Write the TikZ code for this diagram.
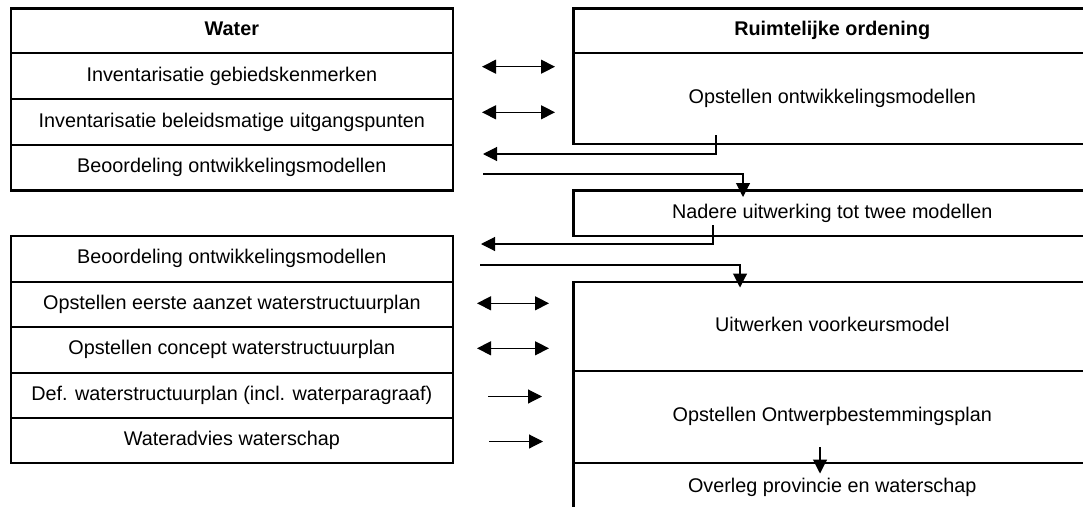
\documentclass[tikz,border=0pt]{standalone}
\usepackage{fontspec}
\setmainfont{Liberation Sans}
\usetikzlibrary{arrows.meta}
\begin{document}
\begin{tikzpicture}[x=1pt,y=-1pt,
  box/.style={draw,line width=2.2pt,inner sep=0pt,align=center,
    font=\fontsize{19.8}{23}\selectfont,text height=14.2pt,text depth=4.1pt},
  title/.style={box,font=\fontsize{19.8}{23}\selectfont\bfseries},
  conn/.style={line width=1.1pt,-{Triangle[length=14pt,width=14pt]}},
  dconn/.style={line width=1.1pt,{Triangle[length=14pt,width=14pt]}-{Triangle[length=14pt,width=14pt]}}]
\useasboundingbox (0,0) rectangle (1083,506);
\clip (0,0) rectangle (1083,506);
% left column, upper block
\node[title,minimum width=442.3pt,minimum height=44.5pt] (wT) at (231.85,30.75) {Water};
\node[box,minimum width=442.3pt,minimum height=46pt] (w1) at (231.85,76) {Inventarisatie gebiedskenmerken};
\node[box,minimum width=442.3pt,minimum height=46pt] (w2) at (231.85,122) {Inventarisatie beleidsmatige uitgangspunten};
\node[box,minimum width=442.3pt,minimum height=45.5pt] (w3) at (231.85,167.75) {Beoordeling ontwikkelingsmodellen};
% left column, lower block
\node[box,minimum width=442.3pt,minimum height=45.9pt] (w4) at (231.85,258.75) {Beoordeling ontwikkelingsmodellen};
\node[box,minimum width=442.3pt,minimum height=45.3pt] (w5) at (231.85,304.35) {Opstellen eerste aanzet waterstructuurplan};
\node[box,minimum width=442.3pt,minimum height=45.7pt] (w6) at (231.85,349.85) {Opstellen concept waterstructuurplan};
\node[box,minimum width=442.3pt,minimum height=45pt] (w7) at (231.85,395.2) {Def. waterstructuurplan (incl. waterparagraaf)};
\node[box,minimum width=442.3pt,minimum height=45.3pt] (w8) at (231.85,440.35) {Wateradvies waterschap};
% right column
\node[title,minimum width=517.5pt,minimum height=44.2pt] (rT) at (832.25,30.6) {Ruimtelijke ordening};
\node[box,minimum width=517.5pt,minimum height=91.6pt] (r1) at (832.25,98.5) {Opstellen ontwikkelingsmodellen};
\node[box,minimum width=517.5pt,minimum height=45.3pt] (r2) at (832.25,213.15) {Nadere uitwerking tot twee modellen};
\node[box,minimum width=517.5pt,minimum height=89.3pt] (r3) at (832.25,326.35) {Uitwerken voorkeursmodel};
\node[box,minimum width=517.5pt,minimum height=91.7pt] (r4) at (832.25,416.85) {Opstellen Ontwerpbestemmingsplan};
\node[box,minimum width=517.5pt,minimum height=48.6pt] (r5) at (832.25,487) {Overleg provincie en waterschap};
% connector ends
\coordinate (a1l) at (482,66.7);  \coordinate (a1r) at (555,66.7);
\coordinate (a2l) at (482,112.3); \coordinate (a2r) at (555,112.3);
\coordinate (a3l) at (477,303.3); \coordinate (a3r) at (549,303.3);
\coordinate (a4l) at (477,348.3); \coordinate (a4r) at (549,348.3);
\coordinate (a5l) at (488,396.5); \coordinate (a5r) at (542,396.5);
\coordinate (a6l) at (489,441.5); \coordinate (a6r) at (543,441.5);
\coordinate (f1s) at (716,135);   \coordinate (f1e) at (483,154);
\coordinate (g1s) at (483,174);   \coordinate (g1e) at (743,197);
\coordinate (f2s) at (713,225);   \coordinate (f2e) at (481,244);
\coordinate (g2s) at (480,265);   \coordinate (g2e) at (740,287.5);
\coordinate (hs) at (820,447);    \coordinate (he) at (820,473.5);
% connectors
\draw[dconn] (a1l) -- (a1r);
\draw[dconn] (a2l) -- (a2r);
\draw[dconn] (a3l) -- (a3r);
\draw[dconn] (a4l) -- (a4r);
\draw[conn] (a5l) -- (a5r);
\draw[conn] (a6l) -- (a6r);
\draw[conn] (f1s) |- (f1e);
\draw[conn] (g1s) -| (g1e);
\draw[conn] (f2s) |- (f2e);
\draw[conn] (g2s) -| (g2e);
\draw[conn] (hs) -- (he);
\end{tikzpicture}
\end{document}
